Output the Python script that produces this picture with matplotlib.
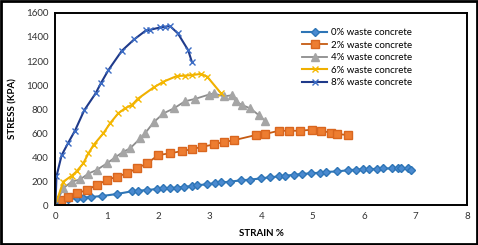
import matplotlib
matplotlib.use("Agg")
import matplotlib.pyplot as plt
from matplotlib.patches import Rectangle

plt.rcParams["font.family"] = ["Lato", "DejaVu Sans"]

# strain (%) / stress (kPa)
strain_0 = [0, 0.25, 0.41, 0.54, 0.7, 0.9, 1.19, 1.49, 1.61, 1.78, 1.97, 2.1, 2.23, 2.36,
            2.49, 2.65, 2.75, 2.95, 3.11, 3.21, 3.4, 3.6, 3.79, 3.99, 4.18, 4.34, 4.47,
            4.64, 4.8, 4.96, 5.14, 5.25, 5.48, 5.68, 5.84, 5.97, 6.1, 6.26, 6.36, 6.55,
            6.65, 6.72, 6.85, 6.91]
stress_0 = [0, 52, 56, 62, 68, 75, 92, 115, 120, 125, 134, 138, 142, 146, 152, 158, 165,
            173, 183, 188, 195, 206, 212, 222, 232, 238, 245, 252, 260, 264, 270, 276,
            280, 290, 295, 297, 298, 303, 305, 305, 305, 306, 305, 292]

strain_2 = [0, 0.1, 0.25, 0.41, 0.61, 0.8, 1.0, 1.19, 1.39, 1.58, 1.78, 2.0, 2.23, 2.46,
            2.65, 2.85, 3.08, 3.27, 3.47, 3.89, 4.08, 4.34, 4.54, 4.75, 4.99, 5.16, 5.35,
            5.48, 5.69]
stress_2 = [0, 40, 69, 97, 125, 167, 208, 236, 264, 306, 347, 417, 431, 450, 465, 485,
            505, 525, 540, 583, 592, 619, 619, 619, 628, 619, 603, 592, 583]

strain_4 = [0, 0.15, 0.32, 0.48, 0.64, 0.8, 1.0, 1.16, 1.32, 1.45, 1.65, 1.74, 1.91, 2.1,
            2.3, 2.52, 2.72, 2.98, 3.08, 3.27, 3.43, 3.5, 3.63, 3.79, 3.95, 4.08]
stress_4 = [0, 140, 195, 214, 262, 292, 347, 397, 444, 472, 556, 597, 690, 764, 805, 865,
            885, 920, 930, 905, 915, 865, 833, 805, 750, 700]

strain_6 = [0, 0.15, 0.32, 0.41, 0.54, 0.64, 0.74, 0.93, 1.06, 1.22, 1.35, 1.49, 1.6,
            1.91, 2.1, 2.36, 2.52, 2.65, 2.82, 2.95, 3.21]
stress_6 = [0, 194, 245, 280, 347, 430, 500, 597, 680, 764, 805, 835, 885, 980, 1028,
            1075, 1078, 1083, 1092, 1070, 935]

strain_8 = [0, 0.02, 0.12, 0.25, 0.38, 0.56, 0.78, 0.89, 1.03, 1.29, 1.53, 1.76, 1.84,
            2.04, 2.13, 2.23, 2.38, 2.58, 2.65]
stress_8 = [0, 240, 415, 520, 620, 790, 930, 1020, 1125, 1285, 1380, 1455, 1460, 1480,
            1486, 1490, 1430, 1290, 1195]

labels = ["0% waste concrete", "2% waste concrete", "4% waste concrete",
          "6% waste concrete", "8% waste concrete"]
x_ticks = [0, 1, 2, 3, 4, 5, 6, 7, 8]
y_ticks = [0, 200, 400, 600, 800, 1000, 1200, 1400, 1600]

fig = plt.figure(figsize=(4.78, 2.45), dpi=100)
ax = fig.add_axes([0.116, 0.163, 0.861, 0.784])

ax.plot(strain_0, stress_0, color="#2E75B6", lw=1.5, marker="D", ms=4,
        mfc="#4A8AD0", mec="#2E75B6", label=labels[0])
ax.plot(strain_2, stress_2, color="#C55A11", lw=1.3, marker="s", ms=5.5,
        mfc="#ED7D31", mec="#D9661F", label=labels[1])
ax.plot(strain_4, stress_4, color="#8C8C8C", lw=1.3, marker="^", ms=5.5,
        mfc="#A5A5A5", mec="#A5A5A5", label=labels[2])
ax.plot(strain_6, stress_6, color="#F0B000", lw=1.5, marker="x", ms=5,
        mec="#F5B800", mew=1.0, label=labels[3])
ax.plot(strain_8, stress_8, color="#1F3A8A", lw=1.5, marker="x", ms=5,
        mec="#3C6CC4", mew=1.0, label=labels[4])

ax.set_xlim(0, 8)
ax.set_ylim(0, 1600)
ax.set_xticks(x_ticks)
ax.set_yticks(y_ticks)
ax.tick_params(length=0, labelsize=7, pad=5, colors="#333333")
for s in ax.spines.values():
    s.set_linewidth(1.4)
    s.set_color("black")

ax.set_xlabel("STRAIN %", fontsize=7, fontweight="bold", labelpad=6)
ax.set_ylabel("STRESS (KPA)", fontsize=7, fontweight="bold", labelpad=6)

ax.legend(loc="upper left", bbox_to_anchor=(0.59, 0.94), frameon=False, fontsize=7,
          handlelength=2.6, handletextpad=0.4, labelspacing=0.35, borderaxespad=0)

fig.patches.append(Rectangle((0.003, 0.004), 0.994, 0.992, transform=fig.transFigure,
                             fill=False, lw=2, ec="black"))

fig.savefig("out.png", dpi=100)
